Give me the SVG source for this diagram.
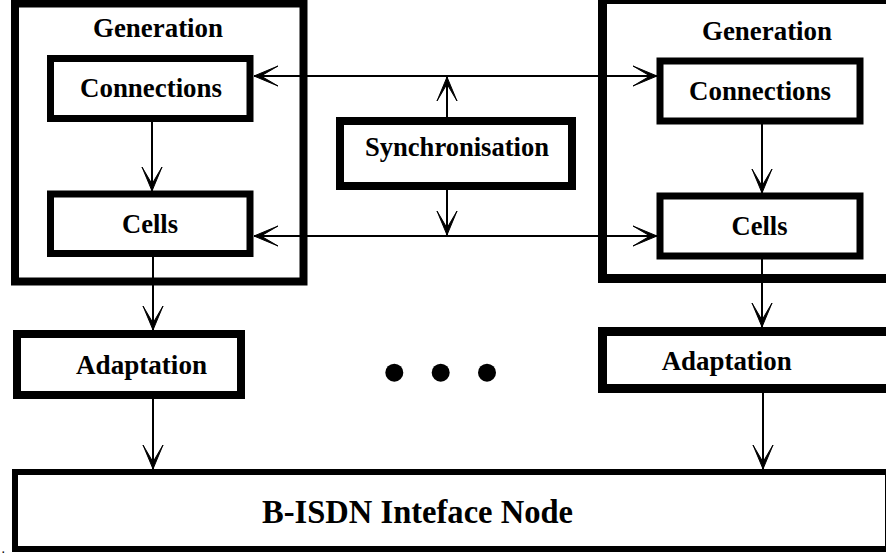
<svg xmlns="http://www.w3.org/2000/svg" width="886" height="556" viewBox="0 0 886 556">
  <style>
    .box { fill: #fff; stroke: #000; }
    .heavy { stroke-width: 8; }
    .mid { stroke-width: 7; }
    .thin { stroke-width: 6; }
    .lbl { font-family: "Liberation Serif", "Times New Roman", serif; font-weight: bold; font-size: 27px; fill: #000; text-anchor: middle; }
    .big { font-size: 33px; }
    .wire { stroke: #000; stroke-width: 2; fill: none; }
  </style>
  <defs>
    <marker id="ah" viewBox="-26 -12 28 24" markerWidth="28" markerHeight="24" refX="0" refY="0" orient="auto-start-reverse" markerUnits="userSpaceOnUse">
      <path d="M0,0 L-24,-10 L-7,0 L-24,10 Z" fill="#000" stroke="#000" stroke-width="1" stroke-linejoin="miter"/>
    </marker>
  </defs>

  <rect width="886" height="556" fill="#fff"/>

  <!-- left generation block -->
  <g id="gen-left">
    <rect class="box heavy" x="15" y="3.5" width="288.5" height="278"/>
    <text class="lbl" x="158" y="37" textLength="130" lengthAdjust="spacingAndGlyphs">Generation</text>
  </g>
  <g id="conn-left">
    <rect class="box mid" x="50.5" y="58.5" width="199.5" height="60"/>
    <text class="lbl" x="151" y="97" textLength="142" lengthAdjust="spacingAndGlyphs">Connections</text>
  </g>
  <g id="cells-left">
    <rect class="box mid" x="50.5" y="194" width="199.5" height="59.5"/>
    <text class="lbl" x="150" y="233" textLength="56" lengthAdjust="spacingAndGlyphs">Cells</text>
  </g>

  <!-- right generation block -->
  <g id="gen-right">
    <rect class="box heavy" x="602.5" y="-0.5" width="300" height="279" style="stroke-width:9"/>
    <text class="lbl" x="767" y="40" textLength="130" lengthAdjust="spacingAndGlyphs">Generation</text>
  </g>
  <g id="conn-right">
    <rect class="box mid" x="660" y="61" width="200" height="60"/>
    <text class="lbl" x="760" y="100" textLength="142" lengthAdjust="spacingAndGlyphs">Connections</text>
  </g>
  <g id="cells-right">
    <rect class="box mid" x="660" y="196" width="200" height="60"/>
    <text class="lbl" x="759.5" y="235" textLength="56" lengthAdjust="spacingAndGlyphs">Cells</text>
  </g>

  <!-- synchronisation -->
  <g id="sync">
    <rect class="box heavy" x="340" y="121" width="232" height="65"/>
    <text class="lbl" x="457" y="156" textLength="184" lengthAdjust="spacingAndGlyphs">Synchronisation</text>
  </g>

  <!-- adaptation layers -->
  <g id="adapt-left">
    <rect class="box heavy" x="17" y="334" width="224" height="61"/>
    <text class="lbl" x="141.5" y="374" textLength="131" lengthAdjust="spacingAndGlyphs">Adaptation</text>
  </g>
  <g id="adapt-right">
    <rect class="box heavy" x="602.5" y="331.5" width="300" height="57" style="stroke-width:9"/>
    <text class="lbl" x="726.7" y="370" textLength="130" lengthAdjust="spacingAndGlyphs">Adaptation</text>
  </g>

  <!-- interface node -->
  <g id="bisdn">
    <rect class="box thin" x="15" y="472" width="873" height="77"/>
    <text class="lbl big" x="417.5" y="523" textLength="311" lengthAdjust="spacingAndGlyphs">B-ISDN Inteface Node</text>
  </g>

  <!-- ellipsis between instances -->
  <g id="ellipsis" fill="#000">
    <circle cx="394.3" cy="372.7" r="9"/>
    <circle cx="440.7" cy="372.7" r="9"/>
    <circle cx="487" cy="372.7" r="9"/>
  </g>

  <!-- connectors -->
  <g id="connectors" class="wire">
    <line x1="152" y1="122" x2="152" y2="191" marker-end="url(#ah)"/>
    <line x1="153" y1="257" x2="153" y2="330" marker-end="url(#ah)"/>
    <line x1="153" y1="399" x2="153" y2="469" marker-end="url(#ah)"/>
    <line x1="762" y1="124" x2="762" y2="193" marker-end="url(#ah)"/>
    <line x1="762" y1="259" x2="762" y2="327" marker-end="url(#ah)"/>
    <line x1="763" y1="393" x2="763" y2="469" marker-end="url(#ah)"/>
    <line x1="254" y1="76" x2="657" y2="76" marker-start="url(#ah)" marker-end="url(#ah)"/>
    <line x1="254" y1="236" x2="657" y2="236" marker-start="url(#ah)" marker-end="url(#ah)"/>
    <line x1="447" y1="117" x2="447" y2="77" marker-end="url(#ah)"/>
    <line x1="447" y1="190" x2="447" y2="235" marker-end="url(#ah)"/>
  </g>

  <text x="2" y="553" font-family="Liberation Serif, serif" font-weight="bold" font-size="10" fill="#000">.</text>
</svg>
